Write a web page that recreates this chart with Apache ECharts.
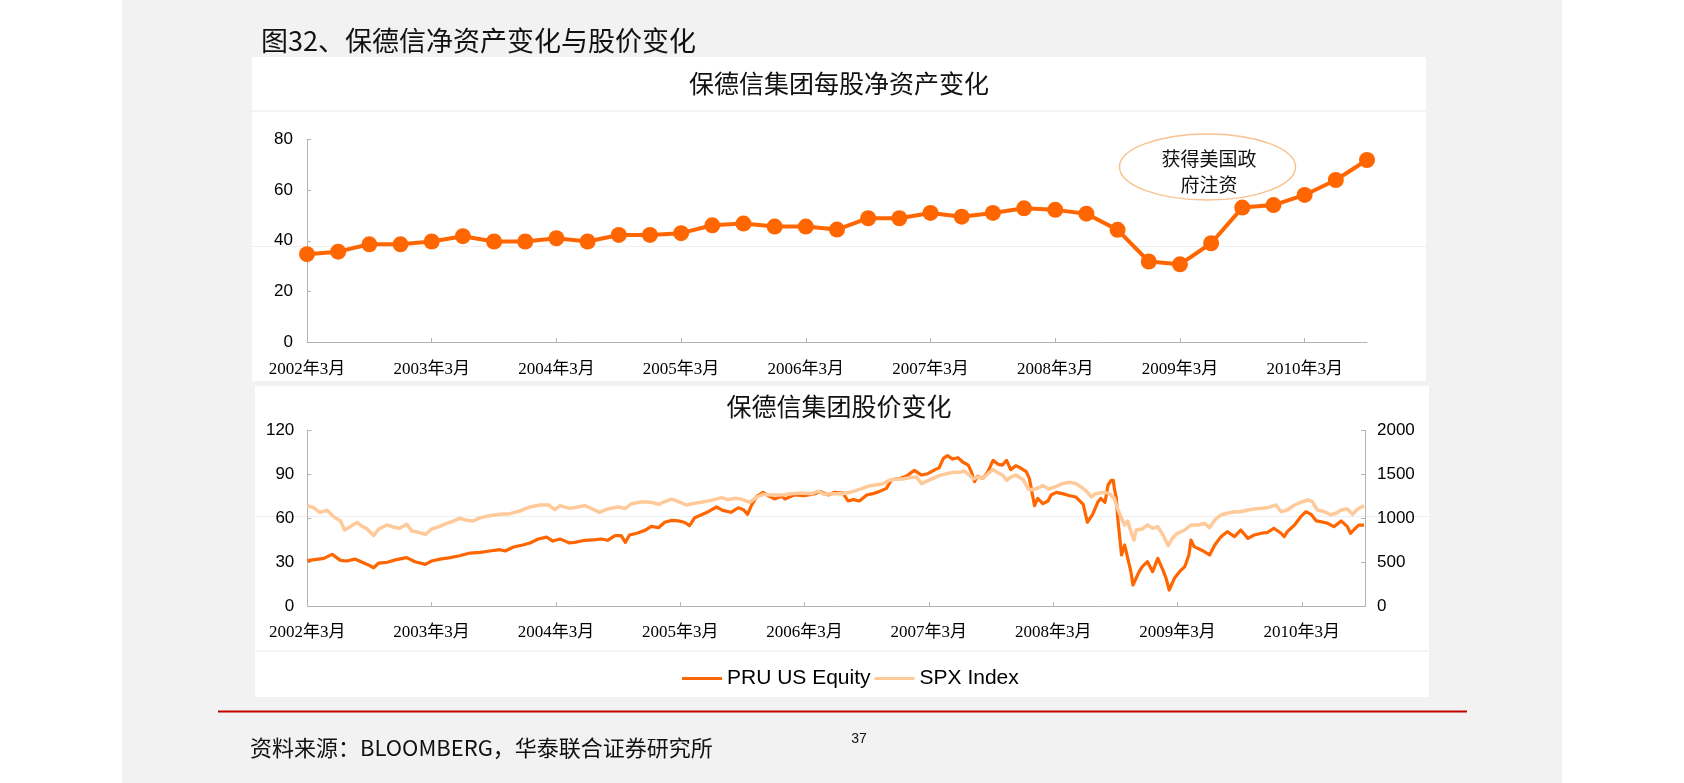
<!DOCTYPE html>
<html>
<head>
<meta charset="utf-8">
<script src="https://cdn.jsdelivr.net/npm/echarts@6/dist/echarts.min.js"></script>
<style>
html,body{margin:0;padding:0;background:#fff;}
#chart{width:1684px;height:783px;}
</style>
</head>
<body>
<div id="chart"></div>
<script>
// ---------- Top chart: book value per share (quarterly) ----------
const quarterLabels = [
  '2002年3月','2002年6月','2002年9月','2002年12月',
  '2003年3月','2003年6月','2003年9月','2003年12月',
  '2004年3月','2004年6月','2004年9月','2004年12月',
  '2005年3月','2005年6月','2005年9月','2005年12月',
  '2006年3月','2006年6月','2006年9月','2006年12月',
  '2007年3月','2007年6月','2007年9月','2007年12月',
  '2008年3月','2008年6月','2008年9月','2008年12月',
  '2009年3月','2009年6月','2009年9月','2009年12月',
  '2010年3月','2010年6月','2010年9月'
];
const navPerShare = [
  34.7, 35.7, 38.6, 38.6, 39.7, 41.8, 39.7, 39.7, 41.0, 39.7, 42.3, 42.3,
  43.0, 46.1, 46.8, 45.6, 45.6, 44.4, 48.9, 48.9, 51.0, 49.5, 51.0, 52.8,
  52.2, 50.7, 44.3, 31.8, 30.7, 39.0, 53.1, 54.1, 58.1, 64.0, 71.9
];

// ---------- Bottom chart: prices (x = months since 2002年3月) ----------
const yearLabels = ['2002年3月','2003年3月','2004年3月','2005年3月','2006年3月','2007年3月','2008年3月','2009年3月','2010年3月'];
const pruMonths = [
  0.0,0.9,1.6,2.4,3.2,3.8,4.6,5.4,5.9,6.4,6.9,7.7,8.6,9.6,10.4,11.4,12.0,12.8,13.8,14.7,
  15.7,16.7,17.6,18.6,19.1,19.9,20.8,21.5,22.3,23.1,23.7,24.4,25.0,25.3,25.8,26.8,27.8,28.4,29.0,29.7,
  30.3,30.7,31.1,31.9,32.6,33.2,33.9,34.5,35.2,35.8,36.4,36.9,37.4,38.0,38.7,39.5,40.1,40.9,41.6,42.1,
  42.5,42.9,43.4,44.0,44.6,45.1,45.8,46.1,47.0,48.0,49.0,49.5,50.3,50.9,51.7,52.2,52.7,53.3,54.0,54.6,
  55.2,55.9,56.4,57.2,57.8,58.6,59.3,59.9,60.6,61.0,61.4,61.8,62.3,62.8,63.3,63.8,64.1,64.4,64.7,65.2,
  65.7,66.2,66.7,67.1,67.5,67.9,68.4,68.9,69.4,69.7,70.2,70.5,71.0,71.5,71.8,72.3,72.9,73.6,74.2,74.9,
  75.3,75.8,76.3,76.6,77.0,77.3,77.6,77.8,77.9,78.1,78.2,78.4,78.6,78.9,79.2,79.5,79.7,80.0,80.3,80.6,
  81.1,81.6,82.1,82.6,82.9,83.2,83.7,84.2,84.7,85.1,85.3,85.6,86.3,87.1,87.6,88.2,88.8,89.5,90.1,90.8,
  91.4,92.1,92.7,93.3,94.0,94.3,94.6,95.3,95.9,96.4,96.9,97.4,97.8,98.5,99.1,99.8,100.4,100.7,101.1,101.5,102.0
];
const pruPrice = [
  31.1,32.0,32.7,35.4,31.3,30.9,32.2,29.7,28.2,26.3,29.5,30.0,31.8,33.2,30.4,28.6,30.9,32.2,33.2,34.5,
  36.3,36.8,37.7,38.6,37.7,40.4,41.8,43.2,45.9,47.2,44.5,45.9,44.1,43.2,43.6,45.0,45.4,45.9,45.0,48.2,
  48.2,43.6,48.6,50.0,51.8,54.5,53.6,57.3,58.6,58.2,57.3,55.0,60.4,62.2,64.5,67.7,65.4,64.1,67.2,65.9,
  62.7,69.1,75.0,77.7,75.0,73.2,75.0,73.2,75.9,75.4,76.8,78.2,75.9,77.7,77.2,71.8,72.7,71.8,75.9,76.8,
  78.2,80.4,86.3,87.2,88.6,92.7,89.5,90.4,93.2,94.5,100.9,102.7,100.4,101.3,98.2,96.3,91.8,85.0,88.6,87.2,
  91.8,99.5,96.8,96.3,99.5,93.2,95.9,94.1,91.8,87.2,68.6,73.6,70.0,71.8,75.9,77.7,76.8,75.4,74.5,69.5,
  57.3,62.5,70.9,73.6,70.9,82.7,85.9,85.9,80.4,73.6,62.2,48.6,35.0,41.8,32.7,23.6,14.5,19.1,23.6,27.0,
  30.4,23.6,32.7,24.7,19.1,11.1,19.1,23.6,27.0,35.0,45.2,40.7,38.4,35.0,41.8,47.5,50.9,47.5,52.0,46.3,
  48.6,49.8,50.4,53.2,49.8,47.5,50.9,55.4,61.1,64.5,62.7,58.2,57.7,56.6,54.3,58.2,54.3,49.8,52.7,55.4,55.4
];
const spxMonths = [
  0.0,0.6,1.2,1.9,2.5,3.2,3.6,4.1,4.8,5.2,5.7,6.4,6.9,7.7,8.3,8.9,9.6,10.1,10.7,11.4,
  12.0,12.8,13.4,14.1,14.7,15.4,16.0,16.7,17.6,18.6,19.6,20.5,21.5,22.5,23.3,23.9,24.4,25.3,26.1,26.8,
  27.4,28.2,29.0,30.0,30.7,31.3,32.3,33.2,33.9,34.5,35.2,36.0,36.6,37.1,38.0,39.0,40.0,40.6,41.3,41.9,
  42.7,43.4,44.0,44.8,45.8,46.7,47.7,48.7,49.3,49.9,50.9,51.7,52.4,53.0,53.6,54.3,54.9,55.6,56.2,56.9,
  57.5,58.1,58.8,59.3,59.7,60.4,61.0,61.7,62.3,63.0,63.4,63.9,64.3,64.7,65.2,65.7,66.2,66.7,67.1,67.5,
  67.9,68.4,69.1,69.6,70.0,70.5,71.0,71.6,72.3,72.9,73.6,74.2,74.7,75.2,75.7,76.1,76.5,77.0,77.4,77.9,
  78.2,78.6,78.9,79.2,79.5,79.8,80.0,80.6,81.1,81.6,82.1,82.6,83.1,83.5,84.0,84.7,85.3,86.0,86.6,87.1,
  87.6,88.2,88.8,89.5,90.1,90.8,91.4,92.1,92.7,93.5,94.0,94.6,95.3,95.9,96.6,97.0,97.5,98.2,98.8,99.3,
  99.8,100.4,100.9,101.4,102.0
];
const spxLevel = [
  1144,1121,1068,1091,1022,969,867,901,954,916,886,803,878,924,901,886,932,856,841,818,
  878,909,939,969,1000,977,969,1007,1030,1045,1053,1083,1129,1151,1151,1098,1144,1113,1129,1144,
  1113,1068,1106,1129,1113,1166,1189,1182,1159,1189,1219,1182,1151,1166,1182,1204,1235,1212,1227,1219,
  1182,1242,1272,1265,1265,1280,1288,1280,1310,1272,1280,1280,1295,1318,1341,1371,1378,1394,1432,1447,
  1447,1462,1469,1394,1416,1454,1485,1507,1522,1522,1538,1492,1447,1469,1454,1507,1553,1515,1492,1432,
  1469,1492,1439,1333,1325,1341,1371,1333,1363,1394,1409,1394,1356,1310,1242,1280,1287,1295,1280,1227,
  1113,1000,924,969,848,753,867,878,924,886,905,810,690,772,829,867,924,924,943,894,
  981,1038,1057,1075,1075,1094,1106,1113,1121,1151,1075,1094,1151,1182,1208,1189,1094,1075,1038,1057,
  1094,1106,1045,1106,1144
];

const pruData = pruMonths.map((m, i) => [m, pruPrice[i]]);
const spxData = spxMonths.map((m, i) => [m, spxLevel[i]]);

const C_DARK = '#ff6600';
const C_LIGHT = '#ffc999';
const AXIS_C = '#b3b3b3';
const NUM_FONT = "'Liberation Sans', Arial, sans-serif";
const DATE_FONT = "'Liberation Serif', 'Noto Sans CJK SC', serif";

const chart = echarts.init(document.getElementById('chart'), null, {renderer: 'canvas'});

const option = {
  backgroundColor: '#ffffff',
  animation: false,
  textStyle: {fontFamily: NUM_FONT},
  graphic: [
    {type: 'rect', z: -10, shape: {x: 122, y: 0, width: 1440, height: 783}, style: {fill: '#f2f2f2'}},
    {type: 'rect', z: -9, shape: {x: 252, y: 57, width: 1174, height: 324}, style: {fill: '#ffffff'}},
    {type: 'rect', z: -9, shape: {x: 255, y: 386, width: 1174, height: 311}, style: {fill: '#ffffff'}},
    {type: 'line', z: -8, shape: {x1: 252, y1: 111, x2: 1426, y2: 111}, style: {stroke: '#e8e8e8', lineWidth: 1}},
    {type: 'line', z: -8, shape: {x1: 252, y1: 246.5, x2: 1426, y2: 246.5}, style: {stroke: '#efefef', lineWidth: 1}},
    {type: 'line', z: -8, shape: {x1: 255, y1: 516.5, x2: 1429, y2: 516.5}, style: {stroke: '#efefef', lineWidth: 1}},
    {type: 'line', z: -8, shape: {x1: 255, y1: 651, x2: 1429, y2: 651}, style: {stroke: '#e8e8e8', lineWidth: 1}},
    {type: 'text', z: 5, style: {text: '图32、保德信净资产变化与股价变化', x: 261, y: 41, textVerticalAlign: 'middle',
      font: "27px 'Noto Sans CJK SC'", fill: '#111'}},
    {type: 'text', z: 5, style: {text: '保德信集团每股净资产变化', x: 839, y: 83, textAlign: 'center', textVerticalAlign: 'middle',
      font: "25px 'Noto Sans CJK SC'", fill: '#111'}},
    {type: 'text', z: 5, style: {text: '保德信集团股价变化', x: 839, y: 406, textAlign: 'center', textVerticalAlign: 'middle',
      font: "25px 'Noto Sans CJK SC'", fill: '#111'}},
    {type: 'ellipse', z: 5, shape: {cx: 1207.5, cy: 167, rx: 88, ry: 33}, style: {fill: 'none', stroke: '#f9c28f', lineWidth: 1.5}},
    {type: 'text', z: 6, style: {text: '获得美国政\n府注资', x: 1209, y: 172, textAlign: 'center', textVerticalAlign: 'middle',
      font: "19px 'Noto Sans CJK SC'", lineHeight: 26, fill: '#111'}},
    {type: 'line', z: 5, shape: {x1: 218, y1: 711.5, x2: 1467, y2: 711.5}, style: {stroke: '#c00000', lineWidth: 2}},
    {type: 'text', z: 5, style: {text: '资料来源：BLOOMBERG，华泰联合证券研究所', x: 250, y: 748, textVerticalAlign: 'middle',
      font: "22px 'Noto Sans CJK SC'", fill: '#111'}},
    {type: 'text', z: 5, style: {text: '37', x: 859, y: 739, textAlign: 'center', textVerticalAlign: 'middle',
      font: "14px 'Liberation Sans'", fill: '#111'}}
  ],
  legend: {
    left: 677, top: 663,
    itemWidth: 40, itemHeight: 3, itemGap: 4,
    textStyle: {fontFamily: NUM_FONT, fontSize: 21, color: '#000'},
    data: [
      {name: 'PRU US Equity', icon: 'rect'},
      {name: 'SPX Index', icon: 'rect'}
    ]
  },
  grid: [
    {left: 307, top: 139.5, width: 1060, height: 202.5},
    {left: 307.3, top: 430.3, width: 1057.7, height: 176}
  ],
  xAxis: [
    {
      type: 'category', gridIndex: 0, data: quarterLabels, boundaryGap: false,
      axisLine: {lineStyle: {color: AXIS_C}},
      axisTick: {inside: true, length: 4, interval: 3, lineStyle: {color: AXIS_C}},
      axisLabel: {interval: 3, margin: 19, color: '#000', fontSize: 17, fontFamily: DATE_FONT}
    },
    {
      type: 'value', gridIndex: 1, min: 0, max: 102.1, interval: 12,
      splitLine: {show: false},
      axisLine: {lineStyle: {color: AXIS_C}},
      axisTick: {inside: true, length: 4, lineStyle: {color: AXIS_C}},
      axisLabel: {
        margin: 18, color: '#000', fontSize: 17, fontFamily: DATE_FONT, showMaxLabel: false,
        formatter: v => yearLabels[Math.round(v / 12)] || ''
      }
    }
  ],
  yAxis: [
    {
      type: 'value', gridIndex: 0, min: 0, max: 80, interval: 20,
      splitLine: {show: false},
      axisLine: {show: true, lineStyle: {color: AXIS_C}},
      axisTick: {show: true, inside: true, length: 4, lineStyle: {color: AXIS_C}},
      axisLabel: {margin: 14, color: '#000', fontSize: 17, fontFamily: NUM_FONT}
    },
    {
      type: 'value', gridIndex: 1, min: 0, max: 120, interval: 30,
      splitLine: {show: false},
      axisLine: {show: true, lineStyle: {color: AXIS_C}},
      axisTick: {show: true, inside: true, length: 4, lineStyle: {color: AXIS_C}},
      axisLabel: {margin: 13, color: '#000', fontSize: 17, fontFamily: NUM_FONT}
    },
    {
      type: 'value', gridIndex: 1, position: 'right', min: 0, max: 2000, interval: 500,
      splitLine: {show: false},
      axisLine: {show: true, lineStyle: {color: AXIS_C}},
      axisTick: {show: true, inside: true, length: 4, lineStyle: {color: AXIS_C}},
      axisLabel: {margin: 12, color: '#000', fontSize: 17, fontFamily: NUM_FONT, formatter: v => String(v)}
    }
  ],
  series: [
    {
      name: '每股净资产', type: 'line', xAxisIndex: 0, yAxisIndex: 0,
      data: navPerShare, symbol: 'circle', symbolSize: 16,
      color: C_DARK, lineStyle: {width: 4, color: C_DARK}, itemStyle: {color: C_DARK}
    },
    {
      name: 'PRU US Equity', type: 'line', xAxisIndex: 1, yAxisIndex: 1,
      data: pruData, showSymbol: false, symbol: 'none',
      color: C_DARK, lineStyle: {width: 3.2, color: C_DARK, join: 'round'}
    },
    {
      name: 'SPX Index', type: 'line', xAxisIndex: 1, yAxisIndex: 2,
      data: spxData, showSymbol: false, symbol: 'none',
      color: C_LIGHT, lineStyle: {width: 3.5, color: C_LIGHT, join: 'round'}
    }
  ]
};
chart.setOption(option);
</script>
</body>
</html>
